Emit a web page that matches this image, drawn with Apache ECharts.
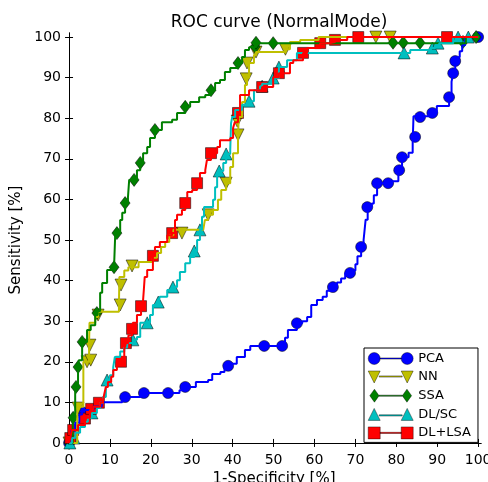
<!DOCTYPE html>
<html>
<head>
<meta charset="utf-8">
<script src="https://cdn.jsdelivr.net/npm/echarts@6/dist/echarts.min.js"></script>
<style>
  html, body { margin: 0; padding: 0; background: #fff; }
  #main { width: 488px; height: 482px; }
</style>
</head>
<body>
<div id="main"></div>
<script>
// ROC curves: [1-specificity %, sensitivity %]
var names = ['PCA', 'NN', 'SSA', 'DL/SC', 'DL+LSA'];
var ticks = [0, 10, 20, 30, 40, 50, 60, 70, 80, 90, 100];

var pcaLine = [[0,0],[0.5,3],[1.5,5],[2.5,7],[3.2,8.1],[6,9],[8,10],[12,10],[13,11.3],[17,11.3],[17.5,12.3],[26,12.3],[27,13],[28.4,13.8],[31,15],[34,15.5],[35,17],[37,17.5],[38,18.5],[39.4,19.5],[41,21.2],[43,22.9],[44.3,23.9],[52.1,23.9],[52.8,25.9],[53.5,27.8],[55.7,29.5],[57,30],[58.2,31],[59.2,34],[60.6,35.2],[62,36],[63,37.5],[64.5,38.4],[65.5,39.5],[66.5,40.5],[67.5,41.9],[69,42.5],[70,44],[70.5,46],[71.4,48.3],[72,50],[72.2,52],[72.5,55],[73,58.1],[74,59],[74.5,61],[75.3,64],[78,64],[79,64.5],[80.5,66],[80.7,67.2],[81.4,70.4],[83,71.5],[84,74],[84.2,80.5],[88.8,81.3],[89.9,83],[92.4,83],[92.9,85.2],[93.5,89],[93.9,91.1],[94.4,94.1],[95,95],[95.5,96.5],[96.1,98],[96.8,100],[100,100]];
var pcaMarks = [[0,0],[3.2,7.6],[13.7,11.3],[18.3,12.3],[24.2,12.3],[28.4,13.8],[38.9,19],[47.7,23.9],[52.1,23.9],[55.7,29.5],[64.5,38.4],[68.7,41.9],[71.4,48.3],[72.9,58.1],[75.3,64],[78,64],[80.7,67.2],[81.4,70.4],[84.6,75.4],[85.8,80.3],[88.8,81.3],[92.9,85.2],[93.9,91.1],[94.4,94.1],[100,100]];

var nnLine = [[0,0],[2,8.9],[3.5,20],[4.9,24.6],[5,29.6],[6.4,31],[7.1,32.3],[11.7,32.3],[12.2,34],[12.3,40.9],[13.5,42.5],[14.5,43.3],[17,44.6],[20.5,45.6],[21.5,46.8],[22.5,48.3],[23.5,49.5],[24.5,51.2],[25.5,52.5],[32.8,52.5],[33.2,54.9],[34,56.2],[35.2,57.4],[36.4,59.9],[37.2,62.3],[38.4,64],[39.4,68],[40.1,71.4],[41.3,75.9],[41.5,80.3],[42.3,84],[43,88.2],[43.5,90],[44,93.6],[45.2,95.6],[45.7,96.3],[52.3,96.3],[53,97],[54,98.8],[56.5,99.3],[61,100],[100,100]];
var nnMarks = [[0,0],[2.2,8.6],[4.4,20],[5.3,20.4],[5.1,24.1],[7.1,31.5],[12.5,34],[12.7,38.9],[15.4,43.6],[27.6,51.7],[34,56.2],[38.4,64],[41.3,75.9],[41.1,79.3],[43.3,89.7],[43.5,93.6],[45.7,96.3],[52.9,97],[75,100],[78.5,100]];

var ssaLine = [[0,0],[0.9,6.2],[1.5,14],[2.2,18.7],[2.4,20.4],[3.2,24.9],[4.4,27.8],[5.3,29],[6.4,31.5],[7,32.5],[7.6,37],[8.1,39.4],[9.3,42.6],[11,43.3],[11.3,51.7],[12.5,54.9],[13,56.7],[13.7,59.1],[14.4,60.5],[14.7,64.8],[16.6,67.2],[17.4,69],[18.1,71.4],[19.1,72.9],[19.8,75.1],[21,77.1],[22.7,79],[25.2,79.6],[26.4,81.3],[28.4,82.8],[29.6,84],[31.8,85.2],[33.3,85.7],[34.7,86.9],[35.7,88.7],[36.9,89.4],[38.1,91.4],[39.4,92.4],[41.3,93.6],[42.3,95.1],[43,96.8],[44,97.5],[45.5,98.5],[96,98.5],[97,100],[100,100]];
var ssaMarks = [[0,0],[1,6.2],[1.7,13.8],[2.2,18.7],[3.2,24.9],[6.8,32],[11,43.3],[11.7,51.7],[13.7,59.1],[15.9,64.8],[17.4,69],[21,77.1],[28.4,82.8],[34.7,86.9],[41.3,93.6],[45.5,97.6],[45.7,98.6],[49.9,98.5],[79.2,98.6],[81.7,98.6],[85.8,98.6],[96.3,98.8],[99.5,100]];

var dlscLine = [[0,0],[0.7,1.2],[1.5,2.5],[2.7,3.9],[3.9,5.2],[4.6,6.2],[5.6,7.4],[6.8,8.6],[7.6,9.9],[8.3,11.3],[9,13.8],[9.3,15.5],[10,16.7],[10.8,18.7],[11.2,21.2],[12.5,22.5],[13.5,23.5],[14.2,24.6],[15.6,25.4],[16.6,26.1],[17.4,29.6],[19.1,29.6],[19.8,31.5],[20.5,34],[21.8,34.7],[22.2,36],[24,37.7],[25.4,38.4],[26.4,40.1],[27.1,42.1],[28.4,44.3],[29.6,45.8],[30.6,47.3],[31.3,50],[32,52.5],[32.5,55.7],[33,58.1],[35.2,59.9],[35.7,63],[36.2,66],[36.7,67],[37.7,69],[38.4,71.2],[39.4,72.2],[39.5,75.4],[39.6,78.8],[39.9,80.3],[40.6,82],[42.3,83.3],[44,84.2],[45.2,86.9],[46.7,87.9],[47.2,88.5],[49.9,89.9],[51.3,92.6],[53.3,94.3],[55.7,96.1],[81.9,96.1],[83.4,96.8],[88.3,97.3],[89.5,98],[90.5,98.5],[93.9,100],[100,100]];
var dlscMarks = [[0.2,0],[1.2,1.2],[5.6,7.4],[9.3,15.5],[15.6,25.4],[19.1,29.6],[21.8,34.7],[25.4,38.4],[30.6,47.3],[32,52.5],[36.7,67],[38.4,71.2],[44,84.2],[47.2,87.9],[49.9,89.9],[51.3,92.6],[81.9,96.1],[88.8,97.3],[90.2,98.5],[95.1,100],[97.6,100]];

var lsaLine = [[0,0],[0.3,1.2],[0.7,3.2],[2.2,4.4],[3.9,6.2],[5.1,8.1],[5.9,8.9],[7.6,9.9],[8.3,10.6],[8.6,12],[9,13.8],[9.5,15],[10.3,16.3],[10.8,18],[11.7,19.2],[12.7,20],[13,21.2],[13.5,23],[13.9,24.6],[14.5,26.5],[15.4,28.1],[15.6,29.6],[16.6,31.5],[17.6,33.7],[18.1,35.2],[18.3,38],[18.5,40.9],[19.1,42.6],[20.5,46.1],[21,48.3],[22.2,49.5],[24,51.2],[25.2,51.7],[25.9,54.9],[26.4,56.2],[27.6,57.4],[28.4,59.1],[28.9,61.8],[30.1,62.3],[31.3,64],[32,66.5],[33.3,67.2],[33.7,69.7],[34.7,71.4],[36.2,72.9],[36.9,74.6],[39.4,75.1],[40.1,77.6],[40.5,79],[41.3,81.3],[41.8,85.7],[44,86.9],[47.2,87.7],[49.9,90.1],[51.3,91.1],[54,93.6],[54.8,94.3],[57.2,96.1],[58.2,97.3],[61.4,98.5],[63.8,98.8],[65,99.3],[68,100],[100,100]];
var lsaMarks = [[0.3,1.2],[1,3.2],[3.9,6],[5.4,8.4],[7.3,9.9],[12.7,20],[13.9,24.6],[15.4,28.1],[17.6,33.7],[20.5,46.1],[25.2,51.7],[28.4,59.1],[31.3,64],[34.7,71.4],[41.3,81.3],[47.2,87.7],[51.3,91.1],[57.2,96.1],[61.4,98.5],[65,99.3],[70.7,100],[92.4,100]];

var lines = [pcaLine, nnLine, ssaLine, dlscLine, lsaLine];
var marks = [pcaMarks, nnMarks, ssaMarks, dlscMarks, lsaMarks];
var colors = ['#0000ff', '#bfbf00', '#008000', '#00bfbf', '#ff0000'];
var symbols = ['circle', 'triangle', 'diamond', 'triangle', 'rect'];
var sizes = [11, 12, [10, 13], 12, 11];
var rotates = [0, 180, 0, 0, 0];
var legendIcons = [
  'path://M0,7a6,6 0 1,0 12,0a6,6 0 1,0 -12,0Z M12,6.4H33V7.6H12Z M33,7a6,6 0 1,0 12,0a6,6 0 1,0 -12,0Z',
  'path://M0,1H12L6,13Z M11,5.9H34V7.1H11Z M33,1H45L39,13Z',
  'path://M5,0L10,7L5,14L0,7Z M10,6.4H35V7.6H10Z M40,0L45,7L40,14L35,7Z',
  'path://M6,1L12,13H0Z M11,7.4H34V8.6H11Z M39,1L45,13H33Z',
  'path://M0,1H12V13H0Z M12,6.4H33V7.6H12Z M33,1H45V13H33Z'
];

var font = 'DejaVu Sans';
var series = [];
names.forEach(function (n, i) {
  series.push({
    name: n + '-curve',
    type: 'line',
    step: 'end',
    data: lines[i],
    showSymbol: false,
    lineStyle: { color: colors[i], width: 2 },
    silent: true
  });
  series.push({
    name: n,
    type: 'scatter',
    data: marks[i],
    symbol: symbols[i],
    symbolSize: sizes[i],
    symbolRotate: rotates[i],
    clip: false,
    itemStyle: { color: colors[i], borderColor: '#000', borderWidth: 0.5, opacity: 1 }
  });
});

function xAx(pos, show) {
  return {
    type: 'value', position: pos, min: -0.5, max: 100.7,
    axisLine: { show: true, lineStyle: { color: '#000', width: 1 } },
    axisTick: { show: true, inside: true, length: 4, customValues: ticks, lineStyle: { color: '#000' } },
    axisLabel: { show: show, customValues: ticks, color: '#000', fontSize: 14, fontFamily: font, margin: 6 },
    splitLine: { show: false }
  };
}
function yAx(pos, show) {
  return {
    type: 'value', position: pos, min: -1, max: 101,
    axisLine: { show: true, lineStyle: { color: '#000', width: 1 } },
    axisTick: { show: true, inside: true, length: 4, customValues: ticks, lineStyle: { color: '#000' } },
    axisLabel: { show: show, customValues: ticks, color: '#000', fontSize: 14, fontFamily: font, margin: 6 },
    splitLine: { show: false }
  };
}

var xBottom = xAx('bottom', true);
xBottom.name = '1-Specificity [%]';
xBottom.nameLocation = 'middle';
xBottom.nameGap = 23;
xBottom.nameTextStyle = { color: '#000', fontSize: 15, fontFamily: font };
var yLeft = yAx('left', true);
yLeft.name = 'Sensitivity [%]';
yLeft.nameLocation = 'middle';
yLeft.nameGap = 34;
yLeft.nameTextStyle = { color: '#000', fontSize: 15, fontFamily: font };

var myChart = echarts.init(document.getElementById('main'));
var option = {
  animation: false,
  backgroundColor: '#fff',
  title: {
    text: 'ROC curve (NormalMode)',
    left: 274, top: 9, textAlign: 'center',
    textStyle: { color: '#000', fontSize: 17, fontWeight: 'normal', fontFamily: font }
  },
  grid: { left: 67, right: 7, top: 33, bottom: 35, containLabel: false, outerBoundsMode: 'none' },
  legend: {
    orient: 'vertical', left: 364, top: 348,
    data: names.map(function (n, i) { return { name: n, icon: legendIcons[i] }; }),
    itemWidth: 45, itemHeight: 13, itemGap: 5.5, itemTextGap: 8,
    padding: [4, 7, 3, 4],
    itemStyle: { borderWidth: 0.4 },
    backgroundColor: '#fff', borderColor: '#000', borderWidth: 1, borderRadius: 0,
    textStyle: { color: '#000', fontSize: 13, fontFamily: font },
    selectedMode: false
  },
  xAxis: [xBottom, xAx('top', false)],
  yAxis: [yLeft, yAx('right', false)],
  series: series
};
myChart.setOption(option);
</script>
</body>
</html>
